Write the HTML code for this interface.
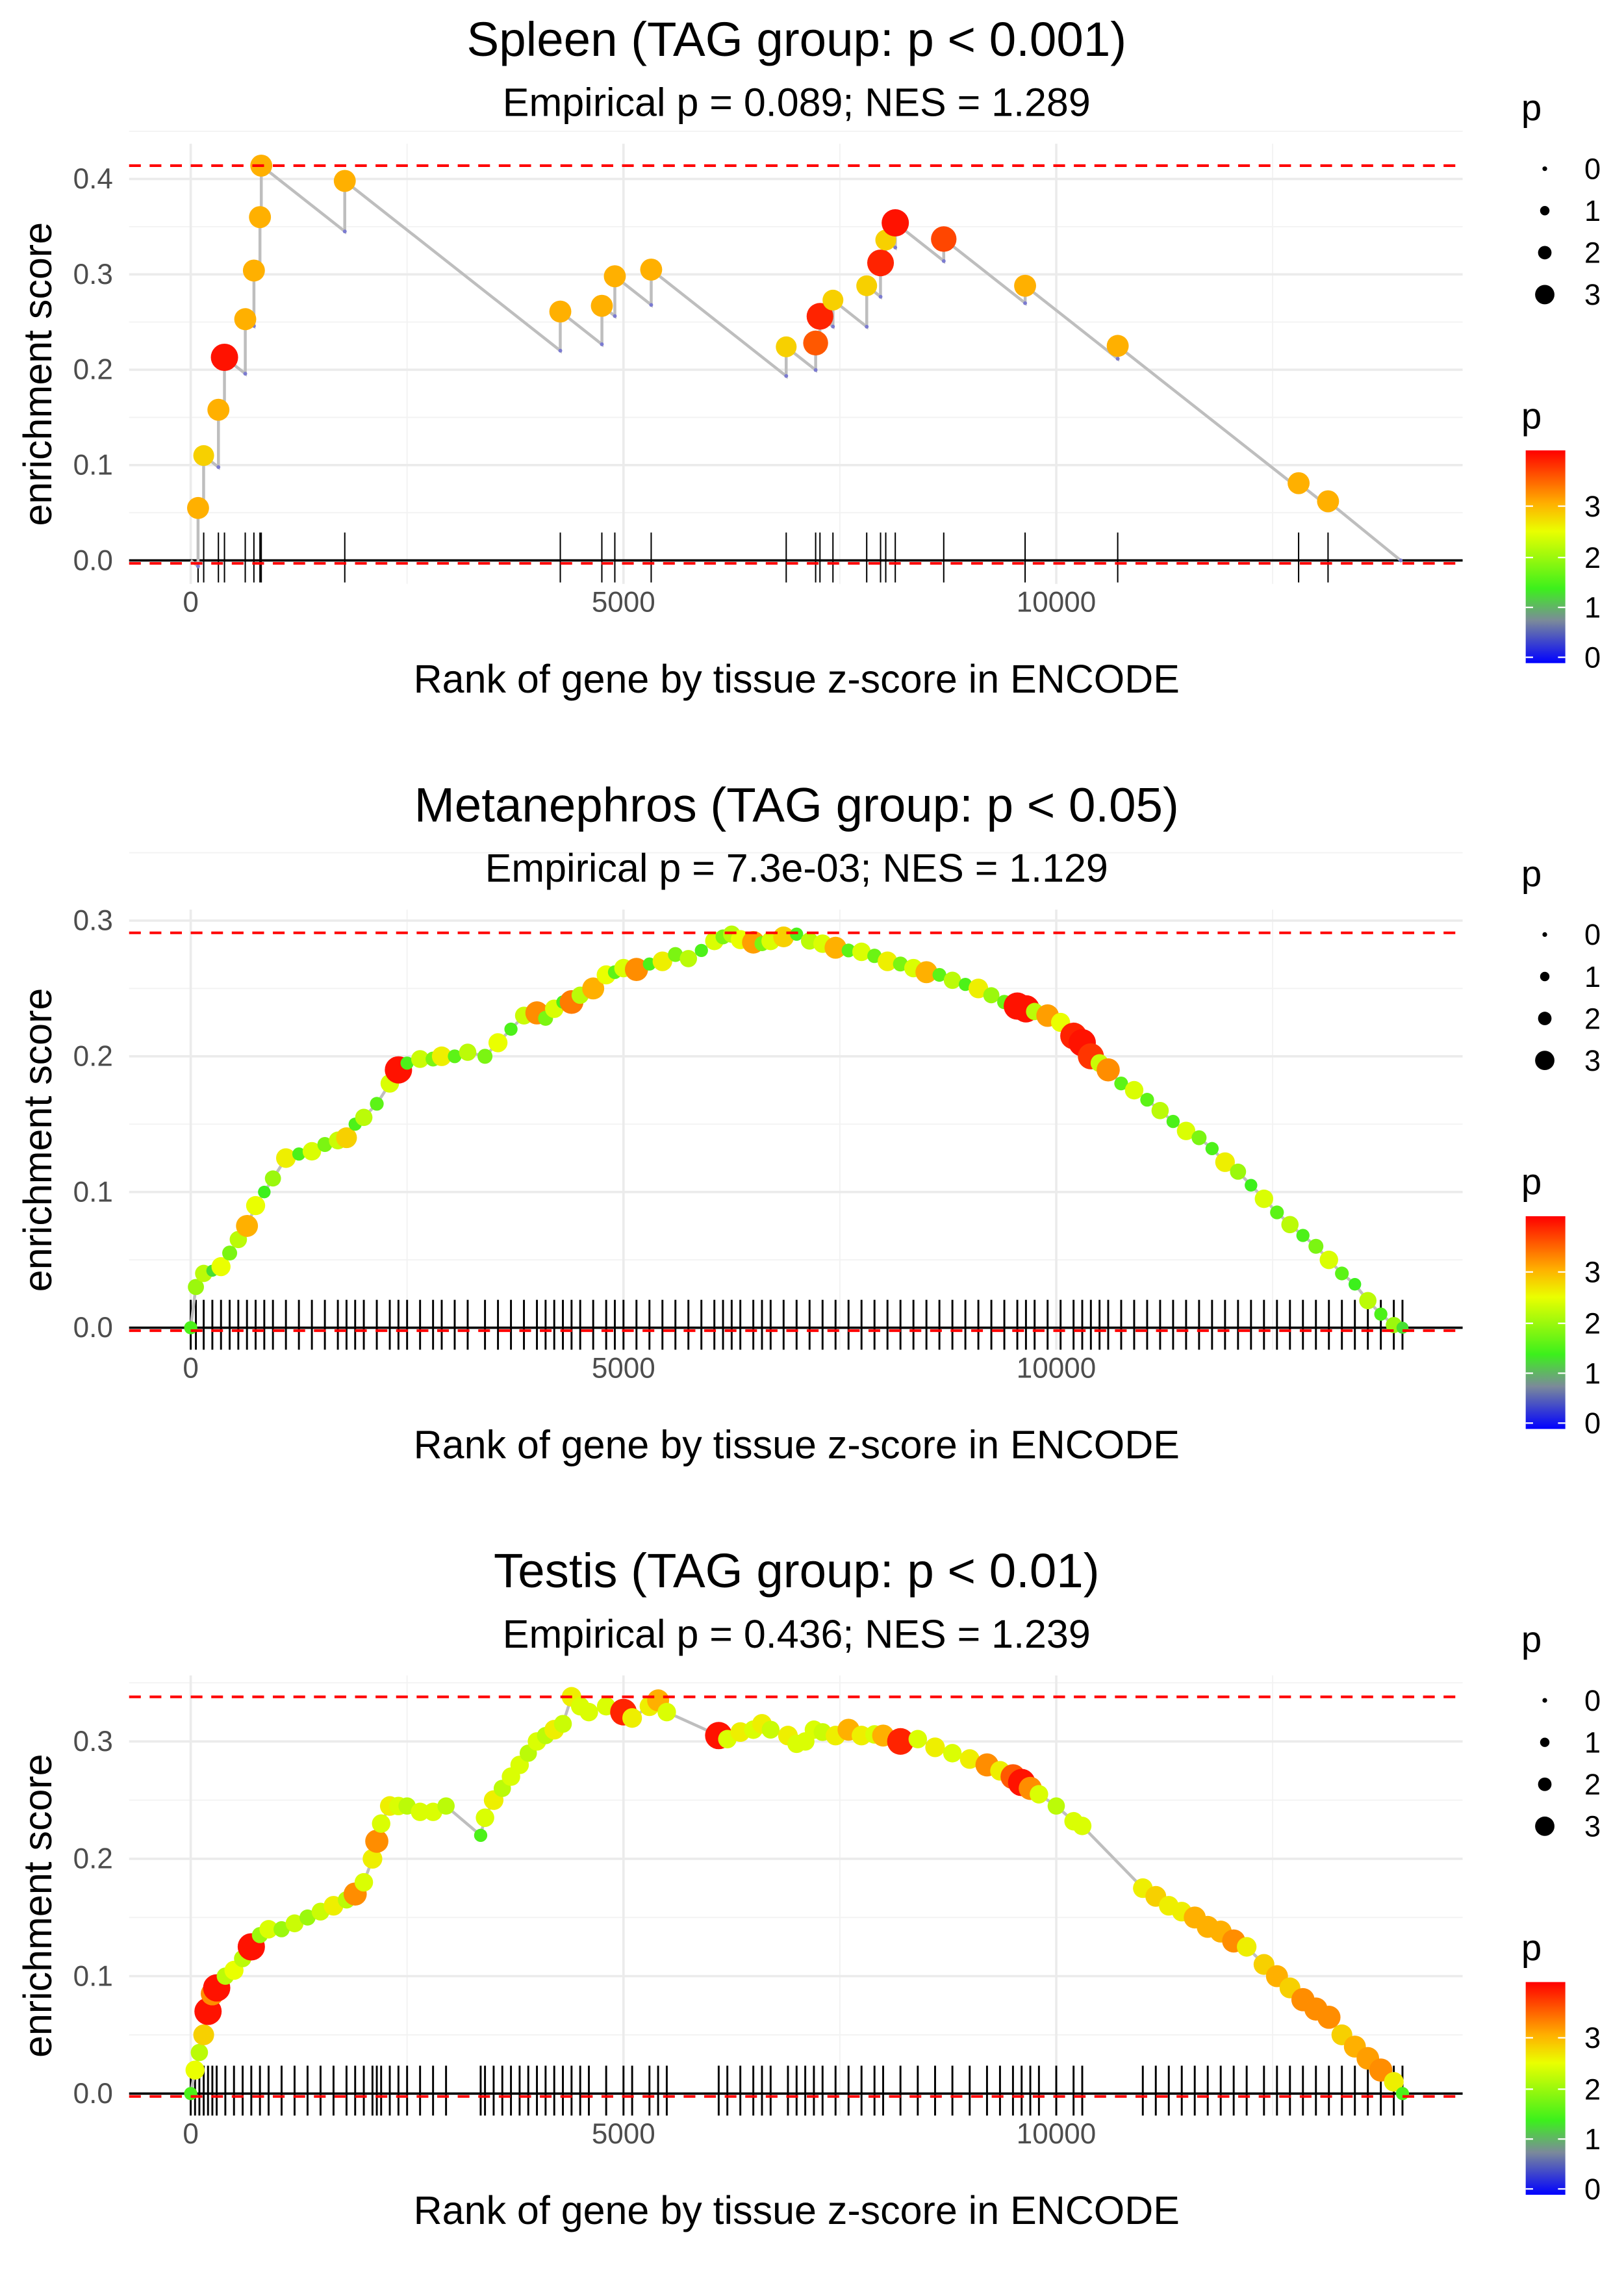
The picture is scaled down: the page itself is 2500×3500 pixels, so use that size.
<!DOCTYPE html>
<html><head><meta charset="utf-8"><style>
html,body{margin:0;padding:0;background:#fff}
svg{display:block}
text{font-family:"Liberation Sans",sans-serif}
</style></head><body>
<svg id="chart" width="2500" height="3500" viewBox="0 0 1107 1550" preserveAspectRatio="none" xmlns="http://www.w3.org/2000/svg">
<defs>
<linearGradient id="pgrad" x1="0" y1="1" x2="0" y2="0">
<stop offset="0" stop-color="#0000ff"/><stop offset="0.2" stop-color="#7b8a9a"/><stop offset="0.35" stop-color="#3cf01c"/><stop offset="0.62" stop-color="#eaff00"/><stop offset="0.75" stop-color="#ffb000"/><stop offset="1" stop-color="#ff0000"/>
</linearGradient>
</defs>
</svg>
<script>
// ---- data ----
const xTicks=[0,5000,10000];
// Panel 1 (Spleen): discrete hits
const spleenRanks=[85,150,320,390,630,730,800,815,1780,4270,4750,4900,5320,6880,7220,7270,7420,7810,7970,8030,8140,8700,9640,10710,12800,13140];
const spleenES=[0.055,0.11,0.158,0.213,0.253,0.304,0.36,0.414,0.398,0.261,0.267,0.298,0.305,0.224,0.228,0.256,0.273,0.288,0.312,0.336,0.354,0.337,0.288,0.225,0.081,0.062];
const spleenP=[3.0,2.8,3.0,3.9,3.0,3.0,3.0,3.0,3.0,3.0,3.0,3.0,3.0,2.8,3.5,3.8,2.8,2.8,3.8,2.8,3.9,3.6,3.0,3.0,3.0,3.0];
const spleenEnd=13980;
const spleenDrop=7.15e-5;
// Panel 2 (Metanephros)
const metaRanks=[0,60,150,250,350,450,550,650,750,850,950,1100,1250,1400,1550,1700,1800,1900,2000,2150,2300,2400,2500,2650,2800,2900,3050,3200,3400,3550,3700,3850,4000,4100,4200,4300,4400,4500,4650,4800,4900,5000,5150,5300,5450,5600,5750,5900,6050,6150,6250,6350,6500,6600,6700,6850,7000,7150,7300,7450,7600,7750,7900,8050,8200,8350,8500,8650,8800,8950,9100,9250,9400,9550,9650,9750,9900,10050,10200,10300,10400,10500,10600,10750,10900,11050,11200,11350,11500,11650,11800,11950,12100,12250,12400,12550,12700,12850,13000,13150,13300,13450,13600,13750,13900,14000];
const metaES=[0,0.03,0.04,0.042,0.045,0.055,0.065,0.075,0.09,0.1,0.11,0.125,0.128,0.13,0.135,0.138,0.14,0.15,0.155,0.165,0.18,0.19,0.195,0.198,0.198,0.2,0.2,0.203,0.2,0.21,0.22,0.23,0.232,0.228,0.235,0.24,0.24,0.245,0.25,0.26,0.262,0.265,0.264,0.268,0.27,0.275,0.272,0.278,0.285,0.288,0.29,0.286,0.284,0.283,0.285,0.288,0.29,0.285,0.283,0.28,0.278,0.277,0.274,0.27,0.268,0.265,0.262,0.26,0.256,0.253,0.25,0.245,0.24,0.237,0.235,0.233,0.23,0.225,0.215,0.21,0.2,0.195,0.19,0.18,0.175,0.168,0.16,0.152,0.145,0.14,0.132,0.122,0.115,0.105,0.095,0.085,0.076,0.068,0.06,0.05,0.04,0.032,0.02,0.01,0.002,0];
const metaP=[1.5,2,2.2,1.3,2.5,1.8,2.2,3,2.5,1.4,2,2.6,1.5,2.4,1.8,2.3,2.8,1.5,2.2,1.6,2.4,3.9,1.5,2.3,1.8,2.6,1.6,2.2,1.8,2.5,1.5,2.3,3.2,1.8,2.4,1.5,3.3,2.2,3,2.5,1.6,2.4,3.2,1.5,2.6,1.8,2.2,1.5,2.4,1.8,2.2,2.5,3.1,1.8,2.4,2.8,1.5,2.2,2.4,3,1.6,2.4,1.7,2.6,1.8,2.4,3,1.6,2.2,1.5,2.6,2,1.7,3.9,3.9,2.2,3.1,2.5,3.8,3.9,3.7,2.3,3.2,1.6,2.4,1.6,2.2,1.5,2.4,1.8,1.5,2.6,2,1.4,2.4,1.6,2.2,1.5,1.8,2.4,1.6,1.4,2.2,1.5,2,1.3];
// Panel 3 (Testis)
const testRanks=[0,50,100,150,200,250,300,400,500,600,700,800,900,1050,1200,1350,1500,1650,1800,1900,2000,2100,2150,2200,2300,2400,2500,2650,2800,2950,3350,3400,3500,3600,3700,3800,3900,4000,4100,4200,4300,4400,4500,4600,4800,5000,5100,5300,5400,5500,6100,6200,6350,6500,6600,6700,6900,7000,7100,7200,7300,7450,7600,7750,7900,8000,8200,8400,8600,8800,9000,9200,9350,9500,9600,9700,9800,10000,10200,10300,11000,11150,11300,11450,11600,11750,11900,12050,12200,12400,12550,12700,12850,13000,13150,13300,13450,13600,13750,13900,14000];
const testES=[0,0.02,0.035,0.05,0.07,0.085,0.09,0.1,0.105,0.115,0.125,0.135,0.14,0.14,0.145,0.15,0.155,0.16,0.165,0.17,0.18,0.2,0.215,0.23,0.245,0.245,0.245,0.24,0.24,0.245,0.22,0.235,0.25,0.26,0.27,0.28,0.29,0.3,0.305,0.31,0.315,0.338,0.33,0.325,0.33,0.325,0.32,0.33,0.335,0.325,0.305,0.302,0.308,0.31,0.315,0.31,0.305,0.298,0.3,0.31,0.308,0.305,0.31,0.305,0.306,0.305,0.3,0.302,0.295,0.29,0.285,0.28,0.275,0.27,0.265,0.26,0.255,0.245,0.232,0.228,0.175,0.168,0.16,0.155,0.15,0.142,0.138,0.13,0.125,0.11,0.1,0.09,0.08,0.072,0.065,0.05,0.04,0.03,0.02,0.01,0];
const testP=[1.5,2.5,2.2,2.8,3.9,3.2,3.9,2.2,2.5,2.2,3.9,2,2.4,2,2.3,2,2.3,2.6,2.2,3.2,2.4,2.6,3.2,2.4,2.6,2.4,2.2,2.4,2.4,2.2,1.5,2.4,2.6,2.2,2.4,2.4,2.2,2.4,2.2,2.6,2.3,2.6,2.4,2.4,2.4,3.8,2.6,2.6,3,2.4,3.9,2.4,2.6,2.4,2.6,2.3,2.6,2.4,2.4,2.4,2.3,2.6,3,2.6,2.4,3,3.8,2.4,2.6,2.4,2.6,3.2,2.6,3.5,3.9,3.2,2.4,2.2,2.4,2.4,2.6,2.8,2.6,2.6,3,3,3,3.2,2.6,2.8,3,2.8,3.2,3.2,3.2,2.8,3,3.1,3.2,2.6,1.5];

// ---- rendering ----
const svg=document.getElementById('chart');
const NS='http://www.w3.org/2000/svg';
function el(tag,attrs,parent){const e=document.createElementNS(NS,tag);for(const k in attrs)e.setAttribute(k,attrs[k]);(parent||svg).appendChild(e);return e;}
function txt(s,attrs,parent){const e=el('text',attrs,parent);e.textContent=s;return e;}
const xs=r=>130+r*0.059;
const stops=[[0,[0,0,255]],[0.8,[123,138,154]],[1.4,[60,240,28]],[2.5,[234,255,0]],[3,[255,176,0]],[4,[255,0,0]]];
function pcol(p){p=Math.max(0,Math.min(4,p));for(let i=1;i<stops.length;i++){if(p<=stops[i][0]){const a=stops[i-1],b=stops[i],t=(p-a[0])/(b[0]-a[0]);return 'rgb('+a[1].map((v,j)=>Math.round(v+(b[1][j]-v)*t)).join(',')+')';}}return 'rgb(255,0,0)';}
const prad=p=>1.5+p*2;

const panels=[
 {name:'spleen',off:0,y0:382,per:650,yt:[0,0.1,0.2,0.3,0.4],title:'Spleen (TAG group: p < 0.001)',sub:'Empirical p = 0.089; NES = 1.289',max:0.414},
 {name:'metanephros',off:522,y0:905,per:925,yt:[0,0.1,0.2,0.3],title:'Metanephros (TAG group: p < 0.05)',sub:'Empirical p = 7.3e-03; NES = 1.129',max:0.291},
 {name:'testis',off:1044,y0:1427,per:800,yt:[0,0.1,0.2,0.3],title:'Testis (TAG group: p < 0.01)',sub:'Empirical p = 0.436; NES = 1.239',max:0.338}
];
panels.forEach((P,pi)=>{
 const g=el('g',{});
 
 
 const o=P.off, ys=v=>P.y0-v*P.per, top=98+o, bot=398+o;
 [2500,7500,12500].forEach(r=>el('line',{x1:xs(r),x2:xs(r),y1:top,y2:bot,stroke:'#f2f2f2','stroke-width':0.8},g));
 P.yt.forEach(v=>el('line',{x1:88,x2:997,y1:ys(v+0.05),y2:ys(v+0.05),stroke:'#f2f2f2','stroke-width':0.8},g));
 xTicks.forEach(r=>el('line',{x1:xs(r),x2:xs(r),y1:top,y2:bot,stroke:'#ebebeb','stroke-width':1.6},g));
 P.yt.forEach(v=>{el('line',{x1:88,x2:997,y1:ys(v),y2:ys(v),stroke:'#ebebeb','stroke-width':1.6},g);
  const t=txt(v.toFixed(1),{x:77,y:ys(v)+6.5,'text-anchor':'end','font-size':19.5,fill:'#4d4d4d'},g);
  });
 xTicks.forEach(r=>{const t=txt(String(r),{x:xs(r),y:417+o,'text-anchor':'middle','font-size':19.5,fill:'#4d4d4d'},g);
  });
 let R,E,Pv;
 if(pi===0){R=spleenRanks;E=spleenES;Pv=spleenP;}else if(pi===1){R=metaRanks;E=metaES;Pv=metaP;}else{R=testRanks;E=testES;Pv=testP;}
 const rug=el('g',{},g);
 
 R.forEach(r=>el('line',{x1:xs(r),x2:xs(r),y1:P.y0-19,y2:P.y0+15,stroke:'#000','stroke-width':pi===0?0.9:1.3},rug));
 el('line',{x1:88,x2:997,y1:P.y0,y2:P.y0,stroke:'#000','stroke-width':1.6},g);
 let pts=[];
 if(pi===0){let prevR=0,prevE=0;pts.push([0,0]);
  R.forEach((r,i)=>{pts.push([r,prevE-spleenDrop*(r-prevR)]);pts.push([r,E[i]]);prevR=r;prevE=E[i];});
  pts.push([spleenEnd,0]);}
 else pts=R.map((r,i)=>[r,E[i]]);
 const line=el('polyline',{points:pts.map(p=>xs(p[0]).toFixed(1)+','+ys(p[1]).toFixed(1)).join(' '),fill:'none',stroke:'#bebebe','stroke-width':2},g);
 
 if(pi===0){pts.forEach((p,i)=>{if(i%2===1)el('circle',{cx:xs(p[0]),cy:ys(p[1]),r:1.3,fill:'#7b7bd0'},g);});}
 R.forEach((r,i)=>{const c=el('circle',{cx:xs(r),cy:ys(E[i]),r:prad(Pv[i]),fill:pcol(Pv[i])},g);
  });
 el('line',{x1:88,x2:997,y1:ys(P.max),y2:ys(P.max),stroke:'#ff0000','stroke-width':1.8,'stroke-dasharray':'8,6'},g);
 el('line',{x1:88,x2:997,y1:P.y0+2,y2:P.y0+2,stroke:'#ff0000','stroke-width':1.8,'stroke-dasharray':'8,6'},g);
 let t=txt(P.title,{x:543,y:38+o,'text-anchor':'middle','font-size':33,fill:'#000'},g);
 
 t=txt(P.sub,{x:543,y:79+o,'text-anchor':'middle','font-size':27,fill:'#000'},g);
 
 t=txt('Rank of gene by tissue z-score in ENCODE',{x:543,y:472+o,'text-anchor':'middle','font-size':27,fill:'#000'},g);
 
 t=txt('enrichment score',{x:0,y:0,'text-anchor':'middle','font-size':27,fill:'#000',transform:'translate(35,'+(255+o)+') rotate(-90)'},g);
 
 const lg=el('g',{},g);
 
 txt('p',{x:1037,y:82+o,'font-size':25,fill:'#000'},lg);
 [0,1,2,3].forEach((v,i)=>{const cy=115+o+i*28.6;el('circle',{cx:1053,cy:cy,r:[1.6,3.2,4.6,6.6][i],fill:'#000'},lg);
  txt(String(v),{x:1080,y:cy+7,'font-size':20,fill:'#000'},lg);});
 const cg=el('g',{},g);
 
 txt('p',{x:1037,y:292+o,'font-size':25,fill:'#000'},cg);
 el('rect',{x:1040,y:307+o,width:27,height:145,fill:'url(#pgrad)'},cg);
 [[0,448],[1,414],[2,380],[3,345]].forEach(([v,y])=>{
  el('line',{x1:1040,x2:1045,y1:y+o,y2:y+o,stroke:'#fff','stroke-width':1},cg);
  el('line',{x1:1062,x2:1067,y1:y+o,y2:y+o,stroke:'#fff','stroke-width':1},cg);
  txt(String(v),{x:1080,y:y+o+7,'font-size':20,fill:'#000'},cg);});
});
</script>
</body></html>
